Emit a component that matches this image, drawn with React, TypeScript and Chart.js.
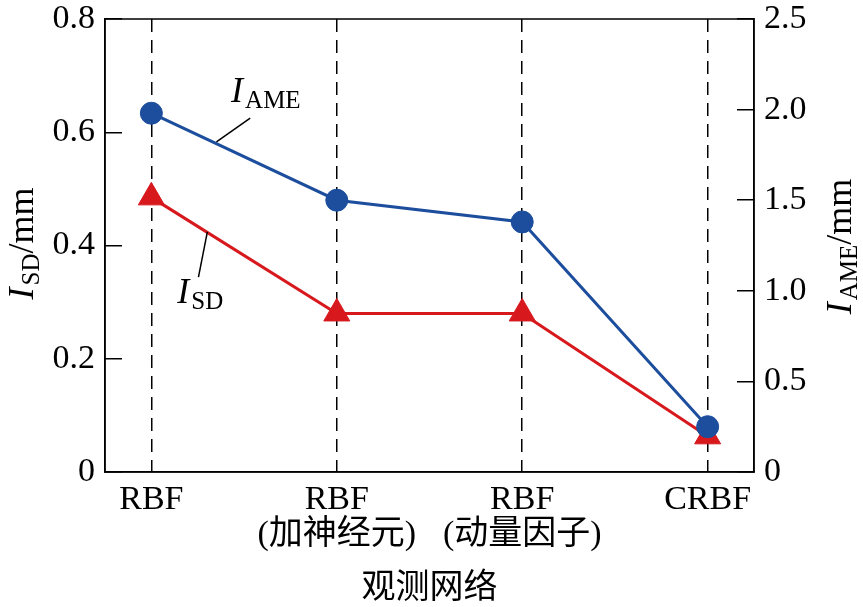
import React, { useEffect, useRef } from 'react';
import { Chart, registerables } from 'chart.js';

Chart.register(...registerables);

// ---- data ----
const categories: string[][] = [['RBF'], ['RBF', '(加神经元)'], ['RBF', '(动量因子)'], ['CRBF']];
const isdValues = [0.485, 0.28, 0.28, 0.063]; // I_SD / mm (left axis)
const ameValues = [1.98, 1.5, 1.38, 0.25]; // I_AME / mm (right axis)
const leftTickValues = [0, 0.2, 0.4, 0.6, 0.8];
const leftTickLabels = ['0', '0.2', '0.4', '0.6', '0.8'];
const rightTickValues = [0, 0.5, 1.0, 1.5, 2.0, 2.5];
const rightTickLabels = ['0', '0.5', '1.0', '1.5', '2.0', '2.5'];
const xTitle = '观测网络';

// ---- style ----
const SERIF = "'Liberation Serif', 'Times New Roman', 'Noto Sans CJK SC', serif";
const BLUE = '#1C4E9D';
const RED = '#D7191E';

type Part = { text: string; font: string; dy?: number; gap?: number };

const leftTitle: Part[] = [
  { text: 'I', font: `italic 36px ${SERIF}`, gap: 2 },
  { text: 'SD', font: `25px ${SERIF}`, dy: 6 },
  { text: '/mm', font: `36px ${SERIF}` },
];
const rightTitle: Part[] = [
  { text: 'I', font: `italic 36px ${SERIF}`, gap: 2 },
  { text: 'AME', font: `25px ${SERIF}`, dy: 6 },
  { text: '/mm', font: `36px ${SERIF}` },
];

// annotation labels, positioned in data coordinates (x index, left-axis value)
const annotations = [
  {
    parts: [
      { text: 'I', font: `italic 36px ${SERIF}`, gap: 2 },
      { text: 'AME', font: `25px ${SERIF}`, dy: 6 },
    ] as Part[],
    at: [0.43, 0.653],
    leader: [[0.351, 0.583], [0.533, 0.625]],
  },
  {
    parts: [
      { text: 'I', font: `italic 36px ${SERIF}`, gap: 2 },
      { text: 'SD', font: `25px ${SERIF}`, dy: 6 },
    ] as Part[],
    at: [0.14, 0.298],
    leader: [[0.302, 0.424], [0.254, 0.344]],
  },
];

function drawRich(ctx: CanvasRenderingContext2D, parts: Part[], x: number, y: number, rot: number, center: boolean) {
  ctx.save();
  ctx.translate(x, y);
  ctx.rotate(rot);
  ctx.textAlign = 'left';
  ctx.textBaseline = 'alphabetic';
  ctx.fillStyle = '#000';
  const widths = parts.map((p) => {
    ctx.font = p.font;
    return ctx.measureText(p.text).width + (p.gap || 0);
  });
  const total = widths.reduce((a, b) => a + b, 0);
  let cx = center ? -total / 2 : 0;
  parts.forEach((p, i) => {
    ctx.font = p.font;
    ctx.fillText(p.text, cx, p.dy || 0);
    cx += widths[i];
  });
  ctx.restore();
}

const overlay = {
  id: 'overlay',
  beforeDatasetsDraw(chart: any) {
    const { ctx, chartArea: a } = chart;
    ctx.save();
    ctx.strokeStyle = '#000';
    ctx.lineWidth = 1.5;
    ctx.strokeRect(a.left, a.top, a.right - a.left, a.bottom - a.top);
    ctx.restore();
  },
  afterDraw(chart: any) {
    const { ctx, chartArea: a } = chart;
    const xs = chart.scales.x;
    const ys = chart.scales.y;
    annotations.forEach((an) => {
      ctx.save();
      ctx.strokeStyle = '#000';
      ctx.lineWidth = 1.5;
      ctx.beginPath();
      ctx.moveTo(xs.getPixelForValue(an.leader[0][0]), ys.getPixelForValue(an.leader[0][1]));
      ctx.lineTo(xs.getPixelForValue(an.leader[1][0]), ys.getPixelForValue(an.leader[1][1]));
      ctx.stroke();
      ctx.restore();
      drawRich(ctx, an.parts, xs.getPixelForValue(an.at[0]), ys.getPixelForValue(an.at[1]), 0, false);
    });
    const cy = (a.top + a.bottom) / 2;
    drawRich(ctx, leftTitle, 33, cy - 2, -Math.PI / 2, true);
    drawRich(ctx, rightTitle, 851, cy + 1, -Math.PI / 2, true);
    ctx.save();
    ctx.fillStyle = '#000';
    ctx.font = `34px 'Noto Sans CJK SC', ${SERIF}`;
    ctx.textAlign = 'center';
    ctx.textBaseline = 'middle';
    ctx.fillText(xTitle, (a.left + a.right) / 2, 585);
    ctx.restore();
  },
};

export default function App() {
  const ref = useRef<HTMLCanvasElement>(null);
  useEffect(() => {
    document.body.style.margin = '0';
    const tickFont = { family: SERIF, size: 34, lineHeight: 1.0 };
    const yGrid = {
      drawOnChartArea: false,
      drawTicks: true,
      tickLength: -17,
      tickColor: '#000',
      tickWidth: 1.5,
      color: '#000',
      lineWidth: 1.5,
    };
    const chart = new Chart(ref.current!, {
      type: 'line',
      data: {
        datasets: [
          {
            label: 'I_AME',
            yAxisID: 'y1',
            data: ameValues.map((v, i) => ({ x: i, y: v })),
            borderColor: BLUE,
            backgroundColor: BLUE,
            borderWidth: 3,
            pointStyle: 'circle',
            pointRadius: 11,
            pointBorderWidth: 1,
            pointBackgroundColor: BLUE,
            pointBorderColor: BLUE,
            tension: 0,
            fill: false,
          },
          {
            label: 'I_SD',
            yAxisID: 'y',
            data: isdValues.map((v, i) => ({ x: i, y: v })),
            borderColor: RED,
            backgroundColor: RED,
            borderWidth: 3,
            pointStyle: 'triangle',
            pointRadius: 15,
            pointBorderWidth: 1,
            pointBackgroundColor: RED,
            pointBorderColor: RED,
            tension: 0,
            fill: false,
          },
        ],
      },
      options: {
        animation: false,
        responsive: false,
        layout: { padding: { top: 19, left: 0, right: 0, bottom: 0 } },
        plugins: { legend: { display: false }, tooltip: { enabled: false } },
        scales: {
          x: {
            type: 'linear',
            min: -0.25,
            max: 3.25,
            afterBuildTicks: (s: any) => {
              s.ticks = categories.map((_, i) => ({ value: i }));
            },
            afterFit: (s: any) => {
              s.height = 135;
              s.paddingLeft = 0;
              s.paddingRight = 0;
            },
            grid: { display: true, drawOnChartArea: true, drawTicks: false, color: '#000', lineWidth: 1.5 },
            border: { display: true, color: '#000', width: 1.5, dash: [13, 8] },
            ticks: {
              callback: (v: any) => categories[Math.round(Number(v))],
              font: { family: SERIF, size: 34, lineHeight: 1.05 },
              color: '#000',
              padding: 10,
              maxRotation: 0,
              minRotation: 0,
              autoSkip: false,
            },
          },
          y: {
            position: 'left',
            min: 0,
            max: 0.8,
            afterBuildTicks: (s: any) => {
              s.ticks = leftTickValues.map((v) => ({ value: v }));
            },
            afterFit: (s: any) => {
              s.width = 105;
              s.paddingTop = 0;
              s.paddingBottom = 0;
            },
            grid: yGrid,
            border: { display: true, color: '#000', width: 1.5 },
            ticks: {
              callback: (_v: any, i: number) => leftTickLabels[i],
              font: tickFont,
              color: '#000',
              padding: 27,
            },
          },
          y1: {
            position: 'right',
            min: 0,
            max: 2.5,
            afterBuildTicks: (s: any) => {
              s.ticks = rightTickValues.map((v) => ({ value: v }));
            },
            afterFit: (s: any) => {
              s.width = 109;
              s.paddingTop = 0;
              s.paddingBottom = 0;
            },
            grid: yGrid,
            border: { display: true, color: '#000', width: 1.5 },
            ticks: {
              callback: (_v: any, i: number) => rightTickLabels[i],
              font: tickFont,
              color: '#000',
              padding: 27,
            },
          },
        },
      },
      plugins: [overlay],
    } as any);
    return () => chart.destroy();
  }, []);
  return (
    <div style={{ width: 863, height: 607 }}>
      <canvas ref={ref} width={863} height={607} style={{ display: 'block' }} />
    </div>
  );
}
